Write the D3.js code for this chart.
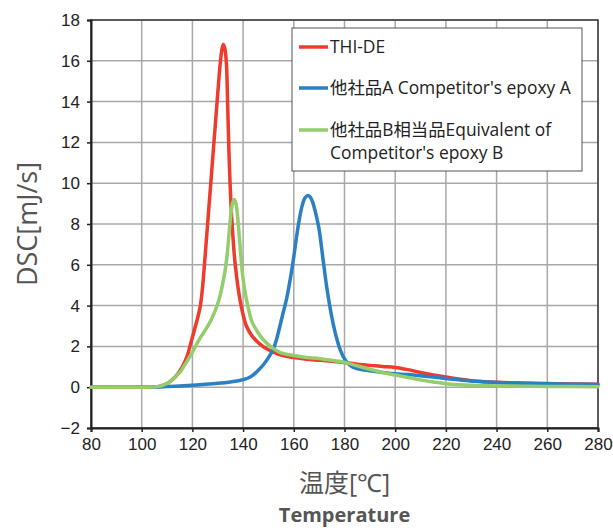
<!DOCTYPE html>
<html>
<head>
<meta charset="utf-8">
<script src="https://cdn.jsdelivr.net/npm/d3@7"></script>
<style>
  body { margin: 0; background: #fff; }
  svg { font-family: "Open Sans", "Noto Sans", "Noto Sans CJK JP", sans-serif; }
</style>
</head>
<body>
<div id="chart"></div>
<script>
// DSC curves, [temperature, mJ/s]
const thiDe = [
  [80, 0], [100, 0], [106, 0.02], [108, 0.08], [110, 0.18], [112, 0.36], [114, 0.62],
  [116, 1.0], [118, 1.55], [119, 2.0], [121, 2.9], [123, 3.9], [124, 4.9], [125, 6.4],
  [126, 8.0], [127, 9.6], [128, 11.2], [129, 12.8], [130, 14.4], [131, 15.9],
  [131.7, 16.6], [132.2, 16.8], [132.8, 16.6], [133.4, 15.9], [133.9, 13.9], [134.5, 11.2],
  [135, 9.6], [135.6, 8.1], [136.9, 6], [138.9, 4.2], [141.3, 3.0], [143.8, 2.47],
  [147.8, 2.0], [151.8, 1.73], [155, 1.57], [160, 1.45], [165, 1.37], [170.3, 1.32],
  [175, 1.27], [180, 1.21], [185, 1.13], [190, 1.07], [195, 1.02], [200, 0.97],
  [205, 0.86], [210, 0.72], [215, 0.6], [220, 0.5], [225, 0.4], [230, 0.32],
  [240, 0.24], [250, 0.2], [260, 0.18], [270, 0.16], [280, 0.15]
];

const competitorA = [
  [80, 0], [100, 0], [106, 0], [110, 0.03], [115, 0.06], [120, 0.1], [125, 0.14],
  [130, 0.19], [135, 0.26], [139, 0.34], [142, 0.45], [144, 0.6], [146, 0.83],
  [148, 1.1], [150.5, 1.55], [152, 1.9], [153.1, 2.3], [155.7, 3.6], [157.1, 4.3],
  [158.6, 5.3], [160, 6.4], [161, 7.3], [162, 8.1], [163.3, 8.9], [164.5, 9.3],
  [165.6, 9.4], [166.5, 9.32], [167.5, 9.05], [168.5, 8.6], [169.9, 7.8], [171.5, 6.3],
  [173, 4.9], [174.9, 3.5], [176.9, 2.4], [178.4, 1.8], [179.5, 1.5], [181, 1.22],
  [183, 1.0], [185, 0.91], [190, 0.8], [195, 0.72], [200, 0.66], [205, 0.62],
  [210, 0.56], [215, 0.5], [220, 0.43], [225, 0.36], [230, 0.3], [235, 0.26],
  [240, 0.23], [250, 0.19], [260, 0.17], [270, 0.15], [280, 0.13]
];

const competitorB = [
  [80, 0], [100, 0], [106, 0.02], [108, 0.08], [110, 0.18], [112, 0.36], [114, 0.6],
  [115.2, 0.75], [117, 1.1], [119, 1.5], [121.2, 2.0], [123, 2.4], [125, 2.78],
  [127, 3.2], [129, 3.75], [130.5, 4.3], [132, 5.1], [133, 5.8], [133.8, 6.6],
  [134.5, 7.6], [135.2, 8.5], [135.8, 9.0], [136.5, 9.2], [137.2, 9.0], [137.8, 8.4],
  [138.5, 7.4], [139.2, 6.3], [140, 5.3], [141, 4.5], [142, 3.9], [143.5, 3.2],
  [145.5, 2.75], [147.8, 2.35], [151.8, 1.9], [155, 1.68], [160, 1.55], [165, 1.46],
  [170.3, 1.4], [175, 1.32], [180, 1.22], [185, 1.05], [190, 0.88], [195, 0.72],
  [200, 0.6], [205, 0.48], [210, 0.36], [215, 0.26], [220, 0.17], [225, 0.12],
  [230, 0.09], [240, 0.06], [260, 0.04], [280, 0.02]
];

const seriesNames = ['THI-DE', '他社品A Competitor\'s epoxy A', '他社品B相当品Equivalent of|Competitor\'s epoxy B'];
const seriesColors = ['#ee3b2b', '#2a80c3', '#93cd6c'];
const xTicks = [80, 100, 120, 140, 160, 180, 200, 220, 240, 260, 280];
const yTicks = [-2, 0, 2, 4, 6, 8, 10, 12, 14, 16, 18];

const W = 613, H = 528;
const margin = { top: 20, right: 15, bottom: 100, left: 91 };
const width = W - margin.left - margin.right;
const height = H - margin.top - margin.bottom;

const svg = d3.select('#chart').append('svg')
  .attr('width', W)
  .attr('height', H);

const g = svg.append('g')
  .attr('transform', `translate(${margin.left},${margin.top})`);

const x = d3.scaleLinear().domain([80, 280]).range([0, width]);
const y = d3.scaleLinear().domain([-2, 18]).range([height, 0]);

// Grid
g.append('g')
  .selectAll('line')
  .data(xTicks)
  .enter()
  .append('line')
  .attr('x1', d => x(d)).attr('x2', d => x(d))
  .attr('y1', 0).attr('y2', height)
  .attr('stroke', '#a8a8a8')
  .attr('stroke-width', 1.5);

g.append('g')
  .selectAll('line')
  .data(yTicks)
  .enter()
  .append('line')
  .attr('x1', 0).attr('x2', width)
  .attr('y1', d => y(d)).attr('y2', d => y(d))
  .attr('stroke', '#a8a8a8')
  .attr('stroke-width', 1.5);

// Frame
g.append('rect')
  .attr('x', 0).attr('y', 0)
  .attr('width', width).attr('height', height)
  .attr('fill', 'none')
  .attr('stroke', '#3a3a3a')
  .attr('stroke-width', 1.5);

// Axes
const xAxis = g.append('g')
  .attr('transform', `translate(0,${height})`)
  .call(d3.axisBottom(x).tickValues(xTicks).tickSize(4).tickPadding(6));

const yAxis = g.append('g')
  .call(d3.axisLeft(y).tickValues(yTicks).tickSize(4).tickPadding(7));

[xAxis, yAxis].forEach(a => {
  a.select('.domain').attr('stroke', '#222').attr('stroke-width', 2);
  a.selectAll('.tick line').attr('stroke', '#222').attr('stroke-width', 1.5);
  a.selectAll('.tick text')
    .attr('fill', '#222')
    .style('font-size', '17px');
});

// Lines
const line = d3.line()
  .x(d => x(d[0]))
  .y(d => y(d[1]))
  .curve(d3.curveCatmullRom.alpha(0.5));

[thiDe, competitorA, competitorB].forEach((data, i) => {
  g.append('path')
    .datum(data)
    .attr('fill', 'none')
    .attr('stroke', seriesColors[i])
    .attr('stroke-width', 3.5)
    .attr('stroke-linejoin', 'round')
    .attr('stroke-linecap', 'round')
    .attr('d', line);
});

// Legend
const legend = svg.append('g').attr('transform', 'translate(292,28)');
legend.append('rect')
  .attr('width', 290).attr('height', 143)
  .attr('fill', '#fff')
  .attr('stroke', '#555')
  .attr('stroke-width', 1);

const legendY = [19, 60, 102];
seriesNames.forEach((name, i) => {
  legend.append('line')
    .attr('x1', 7).attr('x2', 36)
    .attr('y1', legendY[i]).attr('y2', legendY[i])
    .attr('stroke', seriesColors[i])
    .attr('stroke-width', 3.5);
  const t = legend.append('text')
    .attr('x', 38)
    .attr('y', legendY[i] + 6)
    .attr('fill', '#222')
    .style('font-size', '17.4px');
  name.split('|').forEach((part, j) => {
    t.append('tspan')
      .attr('x', 38)
      .attr('dy', j === 0 ? 0 : 23)
      .text(part);
  });
});

// Axis titles
svg.append('text')
  .attr('transform', `translate(37,${margin.top + height / 2}) rotate(-90)`)
  .attr('text-anchor', 'middle')
  .attr('fill', '#555')
  .style('font-size', '27px')
  .text('DSC[mJ/s]');

svg.append('text')
  .attr('x', margin.left + width / 2)
  .attr('y', 492)
  .attr('text-anchor', 'middle')
  .attr('fill', '#555')
  .style('font-size', '25px')
  .text('温度[℃]');

svg.append('text')
  .attr('x', margin.left + width / 2)
  .attr('y', 522)
  .attr('text-anchor', 'middle')
  .attr('fill', '#555')
  .style('font-size', '20px')
  .style('font-weight', 'bold')
  .text('Temperature');
</script>
</body>
</html>
